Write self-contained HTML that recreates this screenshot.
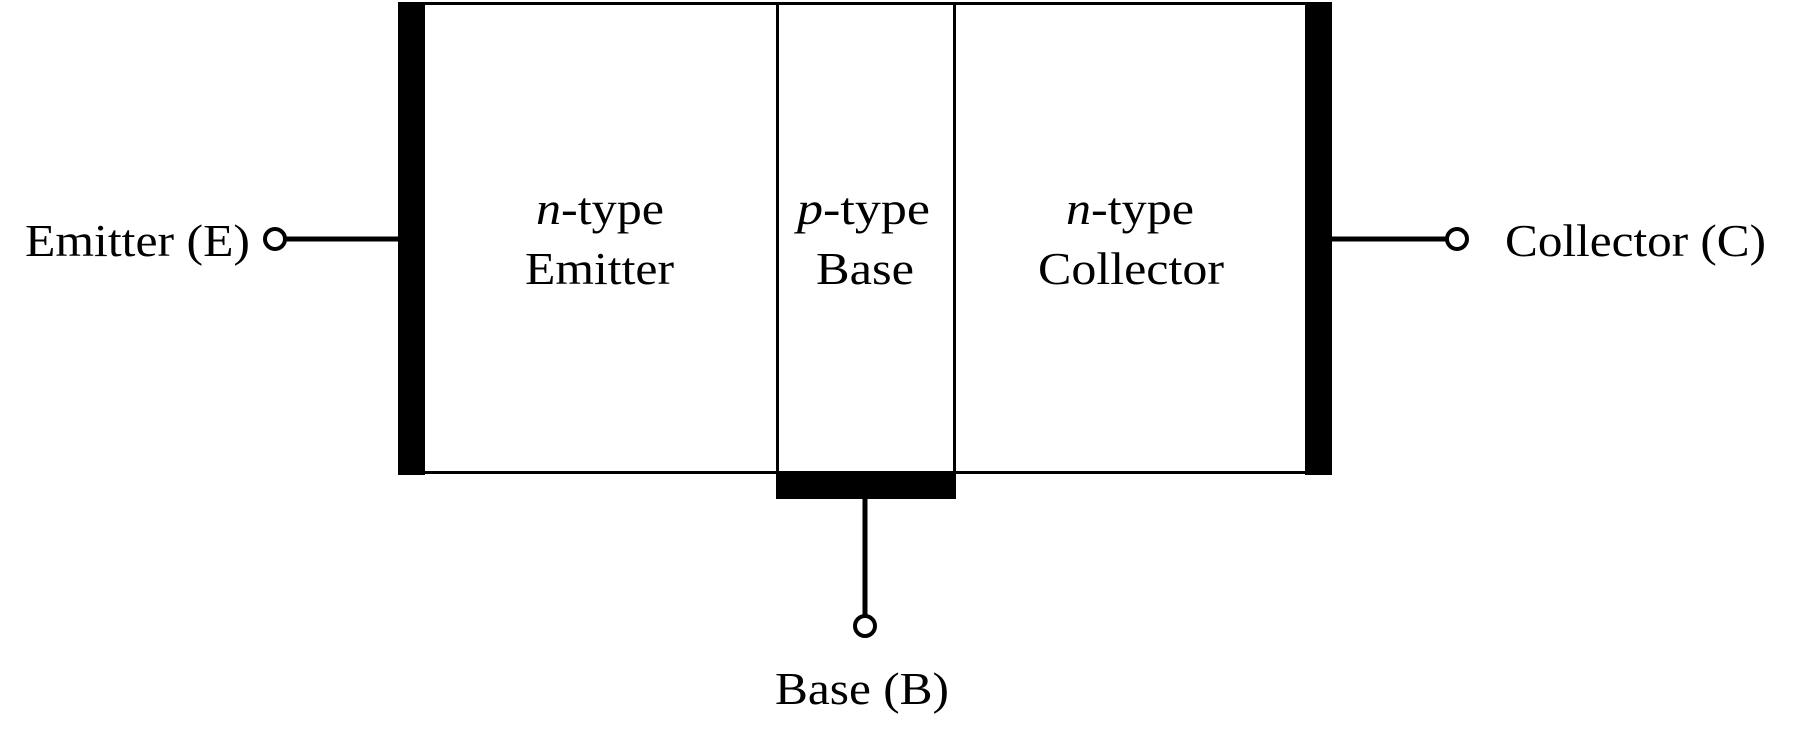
<!DOCTYPE html>
<html><head><style>html,body{margin:0;padding:0;background:#fff}</style></head><body>
<svg width="1795" height="741" viewBox="0 0 1795 741" xmlns="http://www.w3.org/2000/svg" font-family="'Liberation Serif', serif" font-size="46">
<rect x="0" y="0" width="1795" height="741" fill="#fff"/>
<rect x="411" y="3.5" width="908" height="469" fill="none" stroke="#000" stroke-width="3"/>
<line x1="777.5" y1="3" x2="777.5" y2="473" stroke="#000" stroke-width="3"/>
<line x1="954.5" y1="3" x2="954.5" y2="473" stroke="#000" stroke-width="3"/>
<rect x="398" y="2" width="27" height="473" fill="#000"/>
<rect x="1305" y="2" width="27" height="473" fill="#000"/>
<rect x="776" y="472" width="180" height="27" fill="#000"/>
<line x1="285" y1="239" x2="398" y2="239" stroke="#000" stroke-width="5"/>
<circle cx="275" cy="239" r="10" fill="#fff" stroke="#000" stroke-width="4"/>
<line x1="1332" y1="239" x2="1447" y2="239" stroke="#000" stroke-width="5"/>
<circle cx="1457" cy="239" r="10" fill="#fff" stroke="#000" stroke-width="4"/>
<line x1="865" y1="499" x2="865" y2="616" stroke="#000" stroke-width="5"/>
<circle cx="865" cy="626" r="10" fill="#fff" stroke="#000" stroke-width="4"/>
<text x="25" y="256" textLength="225" lengthAdjust="spacingAndGlyphs">Emitter (E)</text>
<text x="1505" y="256" textLength="261" lengthAdjust="spacingAndGlyphs">Collector (C)</text>
<text x="775" y="704" textLength="174" lengthAdjust="spacingAndGlyphs">Base (B)</text>
<text x="536" y="224" textLength="128" lengthAdjust="spacingAndGlyphs"><tspan font-style="italic">n</tspan>-type</text>
<text x="525" y="284" textLength="149" lengthAdjust="spacingAndGlyphs">Emitter</text>
<text x="797" y="224" textLength="133" lengthAdjust="spacingAndGlyphs"><tspan font-style="italic">p</tspan>-type</text>
<text x="816" y="284" textLength="98" lengthAdjust="spacingAndGlyphs">Base</text>
<text x="1066" y="224" textLength="128" lengthAdjust="spacingAndGlyphs"><tspan font-style="italic">n</tspan>-type</text>
<text x="1038" y="284" textLength="186" lengthAdjust="spacingAndGlyphs">Collector</text>
</svg>
</body></html>
